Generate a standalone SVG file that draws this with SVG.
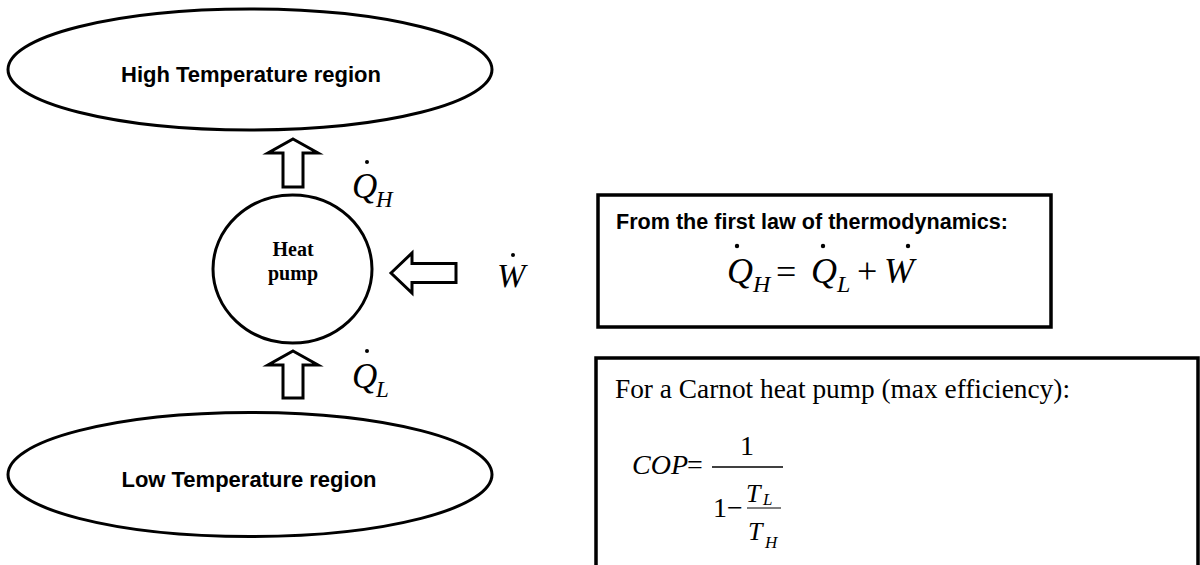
<svg xmlns="http://www.w3.org/2000/svg" width="1200" height="565" viewBox="0 0 1200 565">
<style>
.shape{fill:#fff;stroke:#000;stroke-width:3}
.arrow{fill:#fff;stroke:#000;stroke-width:3;stroke-linejoin:miter}
.sans{font-family:"Liberation Sans",Arial,sans-serif;font-weight:bold;fill:#000}
.serif{font-family:"Liberation Serif","Times New Roman",serif;fill:#000}
.it{font-style:italic}
.box{fill:#fff;stroke:#000;stroke-width:3.5}
.dot{fill:#000}
</style>
<rect width="1200" height="565" fill="#fff"/>
<g id="high-region">
<ellipse class="shape" cx="250" cy="69.5" rx="242" ry="60.5"/>
<text class="sans" x="251" y="82" font-size="22" text-anchor="middle">High Temperature region</text>
</g>
<g id="low-region">
<ellipse class="shape" cx="250" cy="474.5" rx="242" ry="62"/>
<text class="sans" x="249" y="487" font-size="22" text-anchor="middle">Low Temperature region</text>
</g>
<g id="heat-pump">
<ellipse class="shape" cx="292.5" cy="269" rx="79.5" ry="74"/>
<text class="serif" x="293" y="256" font-size="20" font-weight="bold" text-anchor="middle">Heat</text>
<text class="serif" x="293" y="280" font-size="20" font-weight="bold" text-anchor="middle">pump</text>
</g>
<g id="connectors">
<polygon class="arrow" points="293,139 318,153 303,153 303,187 283,187 283,153 268,153"/>
<polygon class="arrow" points="293,351 318,365 303,365 303,398 283,398 283,365 268,365"/>
<polygon class="arrow" points="391,273 412,253 412,263.5 456,263.5 456,282.5 412,282.5 412,293"/>
</g>
<g id="label-QH">
<text class="serif it" x="352" y="198" font-size="35">Q</text>
<text class="serif it" x="376" y="207" font-size="23">H</text>
<circle class="dot" cx="367" cy="162" r="2"/>
</g>
<g id="label-QL">
<text class="serif it" x="352" y="388" font-size="35">Q</text>
<text class="serif it" x="376" y="397" font-size="23">L</text>
<circle class="dot" cx="367" cy="351" r="2"/>
</g>
<g id="label-W">
<text class="serif it" x="497" y="287" font-size="34">W</text>
<circle class="dot" cx="513" cy="255" r="2"/>
</g>
<g id="first-law-box">
<rect class="box" x="598" y="195" width="453" height="132"/>
<text class="sans" x="616" y="229" font-size="22" textLength="392" lengthAdjust="spacingAndGlyphs">From the first law of thermodynamics:</text>
<text class="serif it" x="727" y="283" font-size="36">Q</text>
<text class="serif it" x="753" y="292" font-size="24">H</text>
<circle class="dot" cx="737" cy="246" r="2.2"/>
<text class="serif" x="776" y="284" font-size="36">=</text>
<text class="serif it" x="811" y="283" font-size="36">Q</text>
<text class="serif it" x="837" y="292" font-size="24">L</text>
<circle class="dot" cx="823" cy="246" r="2.2"/>
<text class="serif" x="857" y="283" font-size="36">+</text>
<text class="serif it" x="884" y="283" font-size="36">W</text>
<circle class="dot" cx="908" cy="246" r="2.2"/>
</g>
<g id="carnot-box">
<rect class="box" x="596" y="358" width="602" height="220"/>
<text class="serif" x="615" y="398" font-size="28" textLength="455" lengthAdjust="spacingAndGlyphs">For a Carnot heat pump (max efficiency):</text>
<text class="serif it" x="632" y="474" font-size="28">COP</text>
<text class="serif" x="687" y="474" font-size="28">=</text>
<line x1="712" y1="467" x2="783" y2="467" stroke="#000" stroke-width="1.5"/>
<text class="serif" x="747" y="455" font-size="28" text-anchor="middle">1</text>
<text class="serif" x="713" y="517" font-size="28">1</text>
<text class="serif" x="727" y="517" font-size="28">−</text>
<text class="serif it" x="746" y="502" font-size="26">T</text>
<text class="serif it" x="763" y="505" font-size="17">L</text>
<line x1="747" y1="508" x2="781" y2="508" stroke="#000" stroke-width="1.2"/>
<text class="serif it" x="748" y="540" font-size="26">T</text>
<text class="serif it" x="765" y="548" font-size="17">H</text>
</g>
</svg>
